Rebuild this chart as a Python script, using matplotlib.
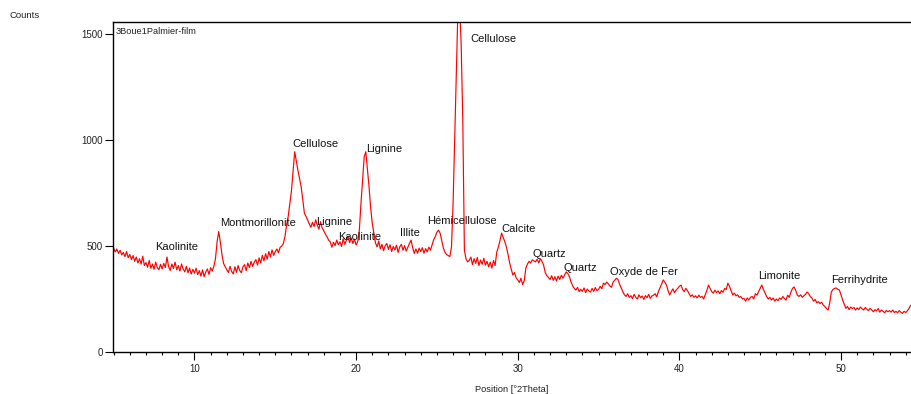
import numpy as np
import matplotlib
matplotlib.use("Agg")
import matplotlib.pyplot as plt
from matplotlib.ticker import MultipleLocator

plt.rcParams['font.family'] = ['Liberation Sans', 'DejaVu Sans']

sample_name = "3Boue1Palmier-film"

# Scan: 2Theta from 5.0 deg, 0.1 deg step
two_theta_start = 5.0
two_theta_step = 0.1

counts = [
    490, 472, 486, 465, 480, 458, 470, 450, 474, 445,   # 5
    460, 436, 455, 428, 448, 420, 440, 415, 452, 408,   # 6
    422, 400, 432, 395, 415, 390, 424, 398, 388, 414,   # 7
    392, 418, 398, 448, 402, 385, 415, 394, 424, 388,   # 8
    408, 382, 415, 392, 378, 404, 374, 396, 368, 390,   # 9
    372, 395, 365, 384, 358, 388, 355, 378, 392, 366,   # 10
    398, 382, 405, 440, 520, 568, 520, 460, 418, 402,   # 11
    388, 375, 404, 380, 368, 402, 376, 408, 384, 374,   # 12
    402, 412, 384, 420, 398, 428, 404, 424, 436, 410,   # 13
    444, 420, 456, 430, 464, 438, 474, 448, 482, 456,   # 14
    474, 486, 468, 494, 500, 512, 545, 600, 640, 700,   # 15
    760, 850, 945, 900, 858, 820, 780, 720, 655, 640,   # 16
    622, 605, 588, 612, 592, 624, 598, 580, 615, 586,   # 17
    572, 556, 544, 528, 520, 494, 518, 502, 528, 506,   # 18
    520, 498, 534, 508, 528, 546, 516, 538, 512, 532,   # 19
    505, 520, 575, 700, 811, 920, 945, 860, 780, 680,   # 20
    608, 560, 514, 496, 524, 486, 508, 478, 502, 512,   # 21
    484, 506, 474, 498, 482, 504, 470, 496, 508, 480,   # 22
    502, 476, 494, 512, 528, 492, 465, 486, 466, 490,   # 23
    474, 492, 466, 488, 472, 495, 480, 505, 530, 545,   # 24
    565, 575, 560, 525, 490, 470, 460, 455, 450, 495,   # 25
    700, 1000, 1300, 1620, 1650, 1450, 1094, 480, 440, 425,  # 26
    432, 448, 412, 440, 418, 446, 408, 434, 414, 442,   # 27
    410, 428, 402, 424, 396, 432, 408, 470, 495, 525,   # 28
    561, 540, 520, 495, 460, 420, 390, 363, 375, 350,   # 29
    340, 328, 348, 318, 336, 395, 415, 428, 420, 435,   # 30
    430, 425, 438, 420, 440, 428, 410, 375, 360, 352,   # 31
    342, 360, 338, 355, 335, 358, 342, 362, 348, 364,   # 32
    378, 370, 355, 330, 312, 300, 292, 305, 285, 296,   # 33
    286, 302, 280, 297, 288, 283, 300, 286, 304, 290,   # 34
    295, 310, 298, 325, 318, 330, 322, 312, 305, 330,   # 35
    338, 348, 342, 320, 302, 285, 270, 262, 275, 258,   # 36
    266, 252, 272, 258, 250, 270, 256, 264, 248, 266,   # 37
    256, 272, 253, 264, 268, 275, 260, 285, 302, 320,   # 38
    340, 330, 316, 290, 269, 285, 298, 280, 292, 300,   # 39
    310, 316, 295, 285, 300, 290, 275, 262, 270, 258,   # 40
    265, 255, 268, 258, 262, 250, 270, 290, 316, 300,   # 41
    285, 278, 292, 280, 288, 275, 290, 282, 300, 295,   # 42
    325, 310, 290, 269, 278, 265, 270, 258, 262, 250,   # 43
    252, 240, 255, 245, 258, 262, 250, 275, 268, 285,   # 44
    300, 316, 295, 278, 262, 250, 258, 245, 255, 240,   # 45
    250, 242, 255, 248, 262, 252, 245, 268, 258, 283,   # 46
    300, 307, 290, 268, 262, 270, 258, 265, 272, 283,   # 47
    275, 262, 255, 240, 248, 232, 238, 228, 235, 222,   # 48
    215, 205, 198, 230, 283, 295, 300, 302, 296, 292,   # 49
    270, 245, 225, 206, 215, 200, 212, 205, 210, 198,   # 50
    208, 200, 212, 204, 198, 210, 202, 195, 206, 198,   # 51
    190, 200, 194, 205, 188, 198, 192, 185, 196, 190,   # 52
    195, 188, 198, 186, 192, 185, 195, 188, 182, 192,   # 53
    186, 194, 205, 220,                                 # 54
]

# Phase identifications: name, 2Theta and count level of the label
phase_names = ["Kaolinite", "Montmorillonite", "Cellulose", "Lignine", "Kaolinite",
               "Lignine", "Illite", "Hémicellulose", "Cellulose", "Calcite",
               "Quartz", "Quartz", "Oxyde de Fer", "Limonite", "Ferrihydrite"]
phase_theta = [7.56, 11.58, 16.03, 17.5, 18.87, 20.6, 22.71, 24.38, 27.09, 29.01,
               30.93, 32.85, 35.69, 44.85, 49.4]
phase_level = [495, 608, 981, 613, 542, 958, 561, 618, 1476, 580,
               462, 396, 377, 358, 340]

counts = np.array(counts, dtype=float)
two_theta = np.round(two_theta_start + two_theta_step * np.arange(len(counts)), 2)

fig = plt.figure(figsize=(9.11, 3.94), dpi=100)
ax = fig.add_axes([113 / 911, 1 - 352 / 394, 1 - 113 / 911, (352 - 22) / 394])

ax.plot(two_theta, counts, color="#ff0000", lw=0.85, clip_on=True)

ax.set_xlim(4.96, 54.33)
ax.set_ylim(0, 1557)

ax.xaxis.set_major_locator(MultipleLocator(10))
ax.xaxis.set_minor_locator(MultipleLocator(1))
ax.set_yticks([0, 500, 1000, 1500])

ax.tick_params(axis="both", which="major", direction="out", length=5.5, width=0.8,
               labelsize=7, colors="black", labelcolor="#222222", pad=2)
ax.tick_params(axis="x", which="minor", direction="out", length=2.2, width=0.8)
ax.tick_params(axis="x", which="major", pad=3)

for side in ("left", "bottom", "top"):
    ax.spines[side].set_linewidth(1.0)
    ax.spines[side].set_color("black")
ax.spines["right"].set_visible(False)

for name, tx, ty in zip(phase_names, phase_theta, phase_level):
    ax.text(tx, ty, name, fontsize=8, ha="left", va="center", color="#111111")

ax.text(0.003, 0.985, sample_name, transform=ax.transAxes, fontsize=6.7,
        ha="left", va="top", color="#222222")

fig.text(10 / 911, 1 - 15 / 394, "Counts", fontsize=6.8, ha="left", va="center",
         color="#222222")
ax.set_xlabel("Position [°2Theta]", fontsize=6.7, color="#222222", labelpad=8)

fig.savefig("out.png", dpi=100)
